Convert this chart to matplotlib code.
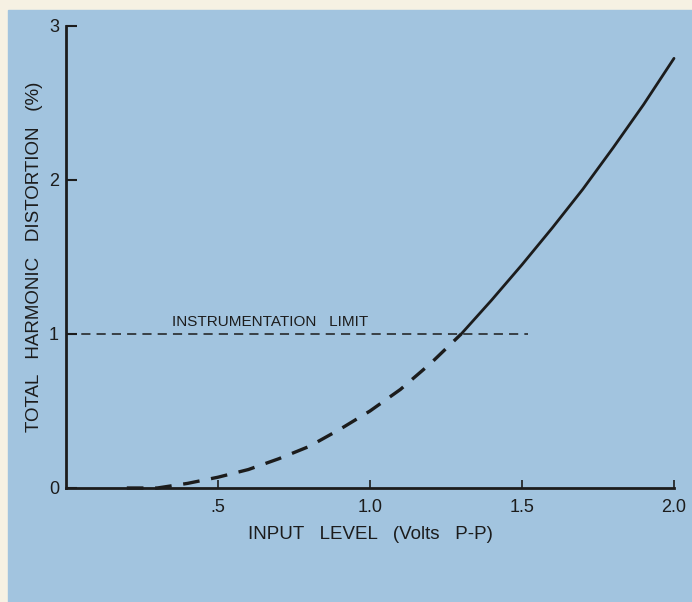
import matplotlib.pyplot as plt
from matplotlib.patches import Rectangle

# distortion curve
input_volts = [0.2, 0.3, 0.4, 0.5, 0.6, 0.7, 0.8, 0.9, 1.0, 1.1, 1.2, 1.3,
               1.4, 1.5, 1.6, 1.7, 1.8, 1.9, 2.0]
thd_pct = [0.0, 0.0, 0.03, 0.07, 0.12, 0.19, 0.27, 0.38, 0.50, 0.64, 0.81, 1.00,
           1.22, 1.45, 1.69, 1.94, 2.21, 2.49, 2.79]
limit_pct = 1.0
limit_end = 1.52
x_ticks = [0.5, 1.0, 1.5, 2.0]
x_tick_labels = ['.5', '1.0', '1.5', '2.0']
y_ticks = [0, 1, 2, 3]

BLUE = '#a2c4df'
INK = '#1c1c1c'

plt.rcParams['font.family'] = ['Liberation Sans', 'DejaVu Sans']

fig = plt.figure(figsize=(6.92, 6.02), dpi=100, facecolor='#f6f1e3')
fig.patches.append(Rectangle((8 / 692, 0), 1, 1 - 10 / 602,
                             transform=fig.transFigure, color=BLUE,
                             zorder=-10))

ax = fig.add_axes([66 / 692, 114 / 602, 608 / 692, 462 / 602])
ax.set_facecolor('none')

# split the curve at the instrumentation limit: dashed below, solid above
k = thd_pct.index(limit_pct)
ax.plot(input_volts[:k + 1], thd_pct[:k + 1], color=INK, lw=2.4,
        dashes=(5, 3.5), clip_on=False)
ax.plot(input_volts[k:], thd_pct[k:], color=INK, lw=2.0, clip_on=False,
        solid_capstyle='round')

ax.plot([0, limit_end], [limit_pct, limit_pct], color=INK, lw=1.1,
        dashes=(6, 4))
ax.text(0.35, limit_pct + 0.035, 'INSTRUMENTATION   LIMIT', fontsize=11,
        color=INK, va='bottom')

ax.set_xlim(0, 2.0)
ax.set_ylim(0, 3.0)
ax.spines['top'].set_visible(False)
ax.spines['right'].set_visible(False)
for s in ('left', 'bottom'):
    ax.spines[s].set_linewidth(2.0)
    ax.spines[s].set_color(INK)

ax.set_xticks(x_ticks)
ax.set_xticklabels(x_tick_labels)
ax.set_yticks(y_ticks)
ax.tick_params(axis='x', direction='in', length=6, width=1.2, pad=8,
               labelsize=13, colors=INK)
ax.tick_params(axis='y', direction='in', length=8, width=1.5, pad=5,
               labelsize=13, colors=INK)

ax.set_xlabel('INPUT   LEVEL   (Volts   P-P)', fontsize=13.5, color=INK,
              labelpad=7)
ax.set_ylabel('TOTAL   HARMONIC   DISTORTION   (%)', fontsize=13.5, color=INK,
              labelpad=4)

fig.savefig('out.png', dpi=100, facecolor=fig.get_facecolor())
